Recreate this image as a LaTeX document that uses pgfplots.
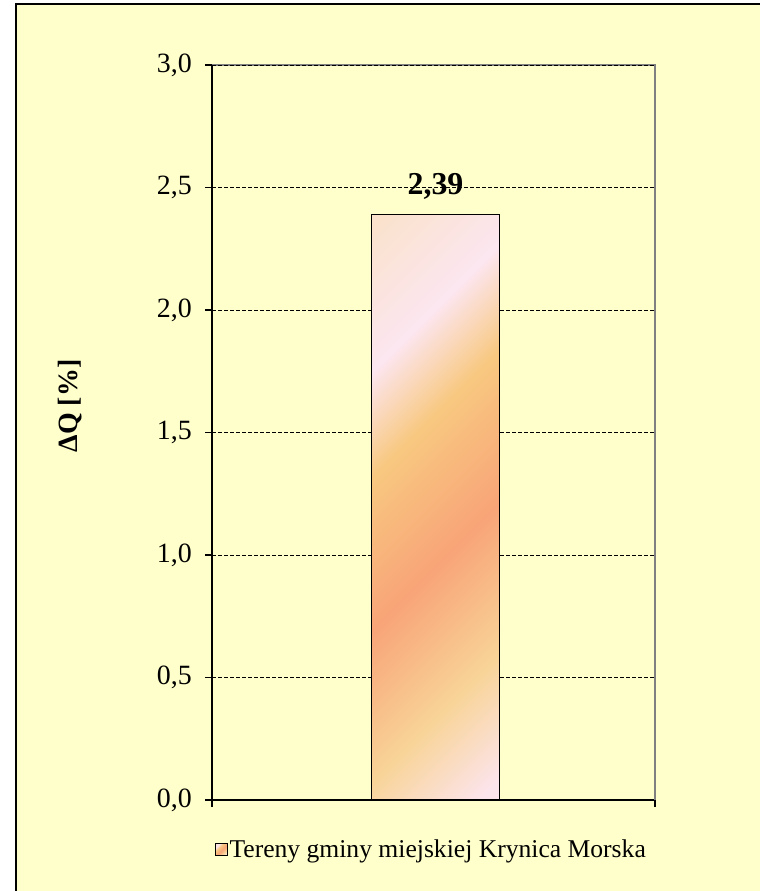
\documentclass[border=0pt]{standalone}
\usepackage{pgfplots}
\pgfplotsset{compat=1.18}
\usepackage{fontspec}
\setmainfont{Liberation Serif}
\definecolor{bgc}{HTML}{FFFFCC}
\definecolor{cpeach}{HTML}{FAE2CC}
\definecolor{cpink}{HTML}{FCE6F0}
\definecolor{cyor}{HTML}{F8C880}
\definecolor{csalmon}{HTML}{F8A478}
\definecolor{cyel}{HTML}{F8D498}
\definecolor{cpinkd}{HTML}{FCE4EC}
\pgfdeclarehorizontalshading{sunset}{100bp}{color(0bp)=(cpeach); color(15.6bp)=(cpeach); color(30.2bp)=(cpink); color(40.7bp)=(cyor); color(55.9bp)=(csalmon); color(71.2bp)=(cyel); color(83.5bp)=(cpinkd); color(100bp)=(cpinkd)}
\begin{document}
\begin{tikzpicture}
\useasboundingbox (0bp,0bp) rectangle (760bp,891bp);
\fill[white] (0bp,0bp) rectangle (760bp,891bp);
\fill[bgc] (16bp,0bp) rectangle (760bp,887bp);
\draw[line width=2bp] (16bp,0bp) -- (16bp,887bp) -- (760bp,887bp);
\node[rotate=90, font=\bfseries\fontsize{28}{33}\selectfont] at (70bp,485bp) {ΔQ [\%]};
\begin{axis}[
  at={(212bp,91bp)}, anchor=south west,
  scale only axis, width=443bp, height=735bp,
  xmin=-0.5, xmax=0.5, ymin=0, ymax=3,
  axis x line*=bottom, axis y line*=left,
  axis line style={line width=1.5bp, black},
  ytick={0,0.5,1,1.5,2,2.5,3},
  xtick={-0.5,0.5}, xticklabels={},
  tick align=outside, major tick length=7bp,
  tick style={black, line width=1.2bp},
  ymajorgrids,
  grid style={black, line width=0.8bp, dash pattern=on 4bp off 2bp},
  /pgf/number format/use comma,
  /pgf/number format/fixed,
  /pgf/number format/fixed zerofill,
  /pgf/number format/precision=1,
  /pgf/number format/assume math mode=true,
  yticklabel style={font=\fontsize{28}{33}\selectfont, inner sep=0pt, xshift=-13bp},
  clip=false,
  legend style={at={(0.495,-0.0667)}, anchor=center, draw=none, fill=none,
    font=\fontsize{25.7}{31}\selectfont, inner sep=0pt},
  nodes near coords,
  nodes near coords style={font=\bfseries\fontsize{32}{38}\selectfont, anchor=base, yshift=20bp,
    /pgf/number format/precision=2},
]
\addplot[ybar, bar width=128bp, draw=black, line width=1.3bp, shade, shading=sunset, shading angle=-45,
  legend image code/.code={\path[draw=black, line width=0.8bp, shade, shading=sunset, shading angle=-45] (0bp,-6bp) rectangle (12bp,6bp);}]
  coordinates {(0.0045,2.39)};
\addlegendentry{Tereny gminy miejskiej Krynica Morska}
\draw[gray, line width=1.5bp] (rel axis cs:0,1) -- (rel axis cs:1,1) -- (rel axis cs:1,0);
\draw[black, line width=0.8bp, dash pattern=on 4bp off 2bp] (rel axis cs:0,1) -- (rel axis cs:1,1);
\end{axis}
\end{tikzpicture}
\end{document}
